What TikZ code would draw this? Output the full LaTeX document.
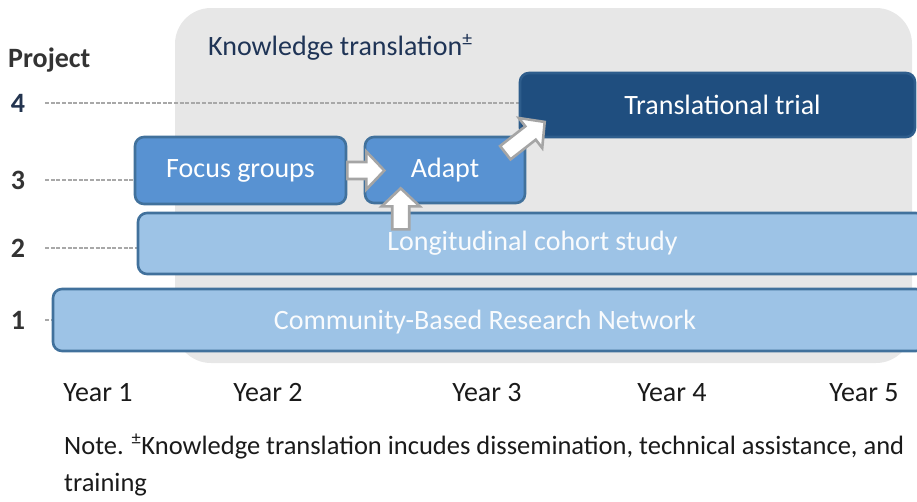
\documentclass[tikz,border=0pt]{standalone}
\usepackage{fontspec}
\setmainfont{Carlito}
\usetikzlibrary{calc}
\definecolor{panelgray}{HTML}{E7E7E7}
\definecolor{midblue}{HTML}{5892D2}
\definecolor{lightblue}{HTML}{9DC3E6}
\definecolor{edgeblue}{HTML}{41719C}
\definecolor{darkblue}{HTML}{1F4E7F}
\definecolor{darkedge}{HTML}{2E5D8C}
\definecolor{navytext}{HTML}{1F3456}
\definecolor{inktext}{HTML}{1A1A1A}
\definecolor{numtext}{HTML}{333333}
\definecolor{dashgray}{HTML}{A8A8A8}
\definecolor{arrowedge}{HTML}{A5A5A5}

\pgfdeclarelayer{panel}
\pgfdeclarelayer{guides}
\pgfsetlayers{panel,guides,main}

% block arrow: tail point, direction angle, total length
\newcommand{\blockarr}[3]{%
  \draw[blockarrow, shift={#1}, rotate=#2]
    (0,-8.5) -- ({#3-18},-8.5) -- ({#3-18},-19) -- (#3,0)
    -- ({#3-18},19) -- ({#3-18},8.5) -- (0,8.5) -- cycle;}

\begin{document}
\begin{tikzpicture}[x=1pt,y=-1pt,
  every node/.style={font=\fontsize{28}{34}\selectfont, inner sep=0pt},
  bar/.style={draw=edgeblue, line width=2.6pt, rounded corners=9pt,
    text=white, anchor=center},
  shortbar/.style={bar, fill=midblue},
  longbar/.style={bar, fill=lightblue, text=white!94!lightblue},
  trialbar/.style={bar, fill=darkblue, draw=darkedge},
  projnum/.style={font=\fontsize{28}{34}\selectfont\bfseries, text=numtext},
  yearlabel/.style={text=inktext},
  notetext/.style={anchor=base west, text=inktext, font=\fontsize{26.5}{38}\selectfont},
  dashline/.style={draw=dashgray, line width=1.1pt, dash pattern=on 4pt off 1.6pt},
  blockarrow/.style={fill=white, draw=arrowedge, line width=2.6pt, line join=miter}]

\useasboundingbox (0,0) rectangle (917,501);
\clip (0,0) rectangle (917,501);

% shaded knowledge-translation panel
\begin{pgfonlayer}{panel}
\fill[panelgray, rounded corners=36pt] (175,8) rectangle (912,363);
\end{pgfonlayer}
\node[anchor=base west, text=navytext] (kt) at (208,55) {Knowledge translation\textsuperscript{±}};

% project axis
\node[anchor=base west, font=\fontsize{28}{34}\selectfont\bfseries, text=numtext] (proj) at (8,67) {Project};
\node[projnum, text=navytext!80!numtext] (n4) at (18,103) {4};
\node[projnum] (n3) at (18,180) {3};
\node[projnum] (n2) at (18,248) {2};
\node[projnum] (n1) at (18,320) {1};

% project bars
\node[trialbar, minimum width=395pt, minimum height=64pt] (tt) at (717.5,105) {};
\node[shortbar, minimum width=211pt, minimum height=67pt] (fg) at (240.5,170.5) {};
\node[shortbar, minimum width=160pt, minimum height=66pt] (ad) at (445,170) {};
\node[longbar, minimum width=787pt, minimum height=61pt] (lc) at (531.5,243.5) {};
\node[longbar, minimum width=872pt, minimum height=62pt] (cb) at (489,320) {};

% guide lines from the project numbers, behind the bars
\begin{pgfonlayer}{guides}
\path[dashline] ([xshift=20pt]n4.east) -- (n4.east -| tt.west);
\path[dashline] ([xshift=20pt]n3.east) -- (n3.east -| fg.west);
\path[dashline] ([xshift=20pt]n2.east) -- (n2.east -| lc.west);
\path[dashline] ([xshift=20pt]n1.east) -- (n1.east -| cb.west);
\end{pgfonlayer}

% bar labels
\node[text=white] at ($(tt)+(5,0)$) {Translational trial};
\node[text=white] at (fg) {Focus groups};
\node[text=white] at (ad) {Adapt};
\node[text=white!94!lightblue] at ($(lc)+(1,0)$) {Longitudinal cohort study};
\node[text=white!94!lightblue] at ($(cb)+(-4,2)$) {Community-Based Research Network};

% flow arrows between studies
\blockarr{(fg.east)}{0}{37}
\blockarr{($(ad.south west)+(37,25)$)}{90}{41}
\blockarr{($(ad.north east)+(-21,17)$)}{38}{50}

% year axis
\node[yearlabel] (y1) at (98,393) {Year 1};
\node[yearlabel] (y2) at (268,393) {Year 2};
\node[yearlabel] (y3) at (487,393) {Year 3};
\node[yearlabel] (y4) at (672,393) {Year 4};
\node[yearlabel] (y5) at (864,393) {Year 5};

% footnote
\node[notetext] (note1) at (64,454)
  {Note. \textsuperscript{±}Knowledge translation incudes dissemination, technical assistance, and};
\node[notetext] (note2) at (64,491) {training};
\end{tikzpicture}
\end{document}
